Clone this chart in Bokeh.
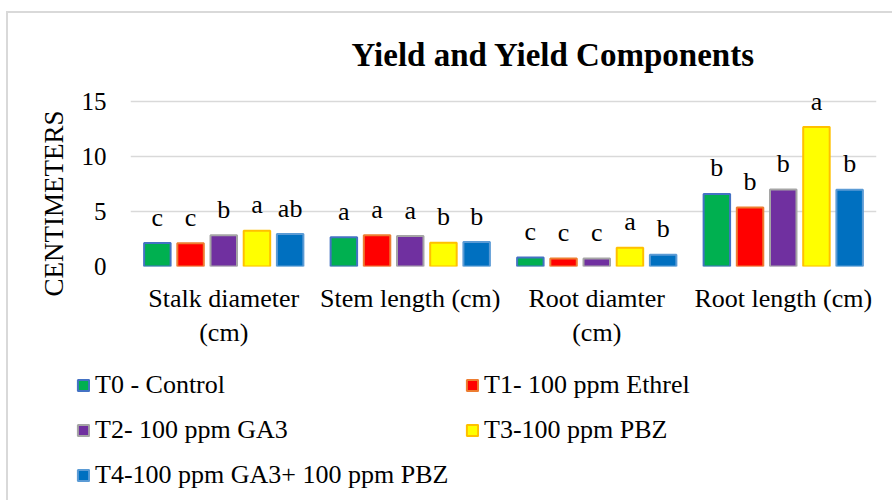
from bokeh.plotting import figure
from bokeh.layouts import column, row
from bokeh.models import ColumnDataSource, Range1d, FixedTicker, Legend, LegendItem, Title
from bokeh.core.properties import value
from bokeh.embed import file_html
from bokeh.resources import INLINE

# ---- data ----
categories = ["Stalk diameter\n(cm)", "Stem length (cm)", "Root diamter\n(cm)", "Root length (cm)"]
treatments = ["T0 - Control", "T1- 100 ppm Ethrel", "T2- 100 ppm GA3",
              "T3-100 ppm PBZ", "T4-100 ppm GA3+ 100 ppm PBZ"]
t0_values = [2.13, 2.65, 0.82, 6.60]
t1_values = [2.12, 2.83, 0.73, 5.36]
t2_values = [2.83, 2.77, 0.72, 7.00]
t3_values = [3.26, 2.16, 1.71, 12.68]
t4_values = [2.95, 2.22, 1.07, 6.97]
t0_letters = ["c", "a", "c", "b"]
t1_letters = ["c", "a", "c", "b"]
t2_letters = ["b", "a", "c", "b"]
t3_letters = ["a", "b", "a", "a"]
t4_letters = ["ab", "b", "b", "b"]
y_ticks = [0, 5, 10, 15]

series_values = [t0_values, t1_values, t2_values, t3_values, t4_values]
series_letters = [t0_letters, t1_letters, t2_letters, t3_letters, t4_letters]
fill_colors = ["#00B050", "#FF0000", "#7030A0", "#FFFF00", "#0070C0"]
line_colors = ["#4472C4", "#ED7D31", "#A5A5A5", "#FFC000", "#5B9BD5"]

SERIF = "Liberation Serif"

# ---- main chart ----
p = figure(width=892, height=358, output_backend="svg", toolbar_location=None,
           x_range=Range1d(0, 4), y_range=Range1d(0, 16),
           min_border_left=130, min_border_right=16, min_border_top=90, min_border_bottom=92)
p.outline_line_color = None
p.background_fill_color = "white"
p.border_fill_alpha = 0

p.title.text = "Yield and Yield Components"
p.title.text_font = SERIF
p.title.text_font_style = "bold"
p.title.text_font_size = "33px"
p.title.text_color = "black"
p.title.align = "left"
p.title.offset = 221
p.title.standoff = 36

p.xgrid.visible = False
p.ygrid.ticker = FixedTicker(ticks=y_ticks)
p.ygrid.grid_line_color = "#d9d9d9"
p.ygrid.grid_line_width = 1.5

p.yaxis.ticker = FixedTicker(ticks=y_ticks)
p.yaxis.axis_line_color = None
p.yaxis.major_tick_line_color = None
p.yaxis.minor_tick_line_color = None
p.yaxis.major_tick_out = 0
p.yaxis.minor_tick_out = 0
p.yaxis.major_label_text_font = SERIF
p.yaxis.major_label_text_font_size = "25px"
p.yaxis.major_label_text_color = "black"
p.yaxis.major_label_standoff = 24

cat_pos = [i + 0.5 for i in range(len(categories))]
p.xaxis.ticker = FixedTicker(ticks=cat_pos)
p.xaxis.major_label_overrides = {pos: lab for pos, lab in zip(cat_pos, categories)}
p.xaxis.axis_line_color = None
p.xaxis.major_tick_line_color = None
p.xaxis.minor_tick_line_color = None
p.xaxis.major_tick_out = 0
p.xaxis.minor_tick_out = 0
p.xaxis.major_label_text_font = SERIF
p.xaxis.major_label_text_font_size = "26px"
p.xaxis.major_label_text_color = "black"
p.xaxis.major_label_standoff = 17

p.add_layout(Title(text="CENTIMETERS", text_font=SERIF, text_font_size="27px",
                   text_font_style="normal", text_color="black",
                   align="left", offset=-30, standoff=20), "left")

pitch = 0.178
for j, (vals, lets) in enumerate(zip(series_values, series_letters)):
    src = ColumnDataSource(dict(x=[c + (j - 2) * pitch for c in cat_pos], top=vals, label=lets))
    p.vbar(x="x", top="top", width=0.142, source=src,
           fill_color=fill_colors[j], line_color=line_colors[j], line_width=2)
    p.text(x="x", y="top", text="label", source=src, text_font=value(SERIF),
           text_font_size="26px", text_align="center", text_baseline="alphabetic",
           y_offset=-26, text_color="black")

# ---- legend strip ----
lg = figure(width=892, height=142, output_backend="svg", toolbar_location=None,
            x_range=Range1d(0, 1), y_range=Range1d(0, 1),
            x_axis_location=None, y_axis_location=None,
            min_border_left=0, min_border_right=0, min_border_top=0, min_border_bottom=0)
lg.outline_line_color = None
lg.grid.visible = False
lg.border_fill_alpha = 0
lg.background_fill_alpha = 0
legend_renderers = []
for j, name in enumerate(treatments):
    r = lg.vbar(x=[0.5], top=[float("nan")], width=0.1, fill_color=fill_colors[j],
                line_color=line_colors[j], line_width=2)
    legend_renderers.append(r)

common = dict(glyph_width=14, glyph_height=14, label_standoff=5, spacing=15,
              label_height=30, padding=0, margin=0, border_line_color=None,
              background_fill_alpha=0, label_text_font=SERIF,
              label_text_font_size="26px", label_text_color="black")
legend_a = Legend(items=[LegendItem(label=treatments[k], renderers=[legend_renderers[k]])
                         for k in (0, 2, 4)], location=(76, 10), **common)
legend_b = Legend(items=[LegendItem(label=treatments[k], renderers=[legend_renderers[k]])
                         for k in (1, 3)], location=(465, 55), **common)
lg.add_layout(legend_a, "center")
lg.add_layout(legend_b, "center")

chart_border = ("linear-gradient(#d9d9d9, #d9d9d9) 6px 11px / 2px 100% no-repeat, "
                "linear-gradient(#d9d9d9, #d9d9d9) 6px 11px / 100% 2px no-repeat, white")
layout = column(p, row(lg), spacing=0, styles={"background": chart_border})
open("out.html", "w").write(file_html(layout, INLINE))
